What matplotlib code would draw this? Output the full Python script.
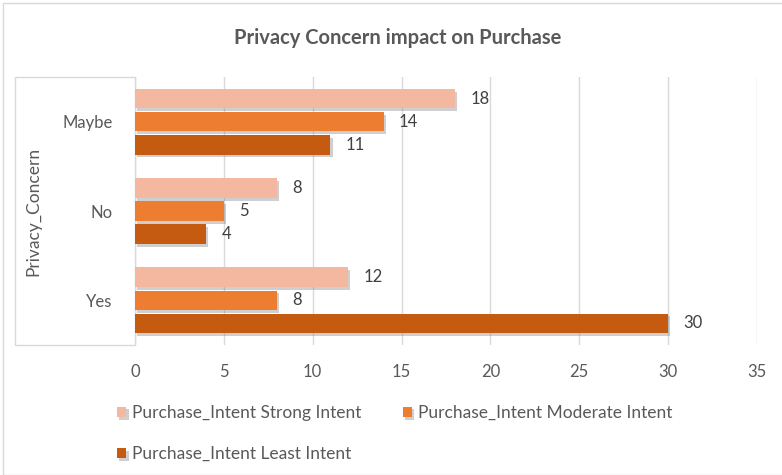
import numpy as np
import matplotlib
matplotlib.use('Agg')
import matplotlib.pyplot as plt
from matplotlib.patches import Rectangle
import matplotlib.patheffects as pe

plt.rcParams['font.family'] = ['Lato', 'DejaVu Sans']

categories = ['Yes', 'No', 'Maybe']
series_names = ['Purchase_Intent Strong Intent',
                'Purchase_Intent Moderate Intent',
                'Purchase_Intent Least Intent']
strong = [12, 8, 18]
moderate = [8, 5, 14]
least = [30, 4, 11]
colors = ['#F4B8A0', '#ED7D31', '#C55A11']

fig = plt.figure(figsize=(7.82, 4.75), dpi=100)
W, H = 782, 475

# outer chart border
fig.patches.append(Rectangle((3 / W, 0), 1, 1 - 3 / H, transform=fig.transFigure,
                             fill=False, edgecolor='#D9D9D9', lw=1, zorder=-2))
# box around axis label area
fig.patches.append(Rectangle((15 / W, 1 - 345 / H), 120 / W, 268 / H,
                             transform=fig.transFigure, facecolor='white',
                             edgecolor='#D9D9D9', lw=1, zorder=-1))

ax = fig.add_axes([135 / W, 1 - 345 / H, 622 / W, 268 / H])
ax.set_facecolor('none')

y = np.arange(len(categories))
step = 0.258
h = 0.22
shadow = [pe.SimplePatchShadow(offset=(1.5, -2), shadow_rgbFace='#888888', alpha=0.4), pe.Normal()]
for i, (vals, c, name) in enumerate(zip([strong, moderate, least], colors, series_names)):
    pos = y + step * (1 - i)
    bars = ax.barh(pos, vals, height=h, color=c, label=name, zorder=3, lw=0)
    for b in bars:
        b.set_path_effects(shadow)
    for p, v in zip(pos, vals):
        ax.annotate(str(v), (v, p), xytext=(11, 0), textcoords='offset points',
                    va='center', ha='left', fontsize=12, color='#404040')

ax.set_xlim(0, 35)
ax.set_ylim(-0.5, 2.5)
ax.set_xticks(np.arange(0, 36, 5))
ax.set_yticks(y)
ax.set_yticklabels(categories)
ax.tick_params(axis='both', length=0, labelsize=12, colors='#595959')
ax.tick_params(axis='x', pad=14)
ax.tick_params(axis='y', pad=16)
ax.grid(axis='x', color='#D9D9D9', lw=1, zorder=0)
for s in ax.spines.values():
    s.set_visible(False)

fig.text(33 / W, 1 - 211 / H, 'Privacy_Concern', rotation=90, ha='center', va='center',
         fontsize=12.5, color='#595959')
fig.text(398 / W, 1 - 38 / H, 'Privacy Concern impact on Purchase', ha='center', va='center',
         fontsize=14.5, fontweight='bold', color='#595959')

handles, labels = ax.get_legend_handles_labels()
order = [0, 2, 1]
leg = fig.legend([handles[k] for k in order], [labels[k] for k in order],
                 loc='upper left', bbox_to_anchor=(110 / W, 1 - 398 / H),
                 ncol=2, frameon=False, fontsize=12.5, handlelength=0.55, handleheight=0.55,
                 handletextpad=0.3, columnspacing=2.4, labelspacing=1.45, borderaxespad=0)
for t in leg.get_texts():
    t.set_color('#595959')

fig.savefig('out.png', dpi=100)
